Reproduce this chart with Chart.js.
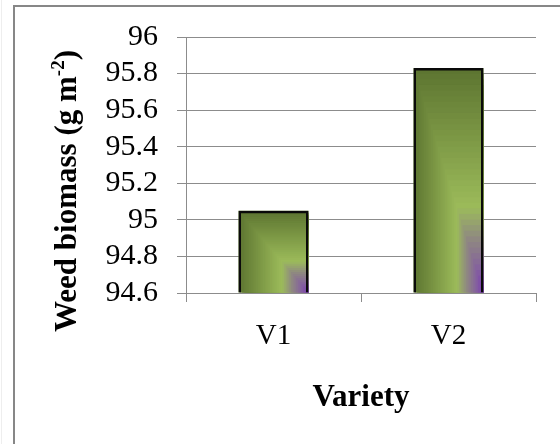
<!DOCTYPE html>
<html>
<head>
<meta charset="utf-8">
<script src="https://cdn.jsdelivr.net/npm/chart.js@4.4.1/dist/chart.umd.min.js"></script>
<style>
  html, body { margin: 0; padding: 0; background: #fff; overflow: hidden; }
  #wrap { position: relative; width: 560px; height: 444px; }
</style>
</head>
<body>
<div id="wrap"><canvas id="myChart" width="560" height="444"></canvas></div>
<script>
// data
var categories = ['V1', 'V2'];
var biomass = [95.05, 95.83];
var yMin = 94.6;
var yMax = 96;
var yStep = 0.2;
var xTitle = 'Variety';
var yTitleMain = 'Weed biomass (g m';
var yTitleSup = '-2';
var yTitleEnd = ')';

var serif = '"Liberation Serif", "Times New Roman", serif';

// colour at distance d (0 = bottom-right corner, 1 = outer edge)
var stops = [
    [0.00, [122, 60, 178]],
    [0.12, [134, 102, 154]],
    [0.25, [144, 140, 126]],
    [0.38, [156, 187, 90]],
    [1.00, [92, 116, 48]]
];
function colorAt(d) {
    for (var i = 1; i < stops.length; i++) {
        if (d <= stops[i][0]) {
            var a = stops[i - 1], b = stops[i];
            var t = (d - a[0]) / (b[0] - a[0]);
            var c = a[1].map(function(v, k) { return Math.round(v + (b[1][k] - v) * t); });
            return 'rgb(' + c.join(',') + ')';
        }
    }
    return 'rgb(' + stops[stops.length - 1][1].join(',') + ')';
}

// rectangular gradient fill under each bar, drawn from the bar element geometry
var barFill = {
    id: 'barFill',
    beforeDatasetsDraw: function(chart) {
        var ctx = chart.ctx;
        var area = chart.chartArea;
        var meta = chart.getDatasetMeta(0);
        meta.data.forEach(function(bar) {
            var p = bar.getProps(['x', 'y', 'base', 'width'], true);
            var left = p.x - p.width / 2, right = p.x + p.width / 2;
            var top = Math.min(p.y, p.base), bottom = Math.min(Math.max(p.y, p.base), area.bottom);
            var w = right - left, h = bottom - top;
            var steps = 40;
            ctx.save();
            for (var k = steps; k >= 1; k--) {
                var d = k / steps;
                ctx.fillStyle = colorAt(d - 0.5 / steps);
                ctx.fillRect(right - d * w, bottom - d * h, d * w, d * h);
            }
            ctx.restore();
        });
    }
};

// outer frame and rotated y title with superscript
var decor = {
    id: 'decor',
    beforeDraw: function(chart) {
        var ctx = chart.ctx;
        ctx.save();
        ctx.strokeStyle = '#eeeeee';
        ctx.lineWidth = 1;
        ctx.beginPath();
        ctx.moveTo(1.5, 0);
        ctx.lineTo(1.5, 444);
        ctx.stroke();
        ctx.strokeStyle = '#878787';
        ctx.lineWidth = 2;
        ctx.beginPath();
        ctx.moveTo(14, 444);
        ctx.lineTo(14, 6);
        ctx.lineTo(560, 6);
        ctx.stroke();
        ctx.restore();
    },
    afterDraw: function(chart) {
        var ctx = chart.ctx;
        var main = 'bold 31px ' + serif;
        var sup = 'bold 19px ' + serif;
        ctx.save();
        ctx.font = main;
        var w1 = ctx.measureText(yTitleMain).width;
        var w3 = ctx.measureText(yTitleEnd).width;
        ctx.font = sup;
        var w2 = ctx.measureText(yTitleSup).width;
        var total = w1 + w2 + w3;
        ctx.translate(76, 191);
        ctx.rotate(-Math.PI / 2);
        ctx.fillStyle = '#000';
        ctx.textBaseline = 'alphabetic';
        ctx.textAlign = 'left';
        var x0 = -total / 2;
        ctx.font = main;
        ctx.fillText(yTitleMain, x0, 0);
        ctx.font = sup;
        ctx.fillText(yTitleSup, x0 + w1, -12);
        ctx.font = main;
        ctx.fillText(yTitleEnd, x0 + w1 + w2, 0);
        ctx.restore();
    }
};

var ctx = document.getElementById('myChart').getContext('2d');
var chart = new Chart(ctx, {
    type: 'bar',
    data: {
        labels: categories,
        datasets: [{
            data: biomass,
            base: yMin,
            backgroundColor: 'rgba(0,0,0,0)',
            borderColor: '#0a0a0a',
            borderWidth: 2.5,
            barPercentage: 0.4,
            categoryPercentage: 1
        }]
    },
    options: {
        responsive: false,
        animation: false,
        devicePixelRatio: 1,
        layout: { padding: { top: 35, right: 24, left: 0, bottom: 0 } },
        plugins: {
            legend: { display: false },
            tooltip: { enabled: false }
        },
        scales: {
            x: {
                offset: true,
                grid: { offset: true, drawOnChartArea: false, drawTicks: true, tickLength: 9, color: '#8c8c8c' },
                border: { color: '#8c8c8c', width: 1 },
                ticks: { color: '#000', padding: 17, font: { family: serif, size: 29 } },
                title: {
                    display: true,
                    text: xTitle,
                    color: '#000',
                    font: { family: serif, size: 31, weight: 'bold', lineHeight: 1.2 },
                    padding: { top: 0, bottom: 27 }
                },
                afterFit: function(s) { s.height = 151; }
            },
            y: {
                min: yMin,
                max: yMax,
                grid: { color: '#8c8c8c', tickLength: 9, drawTicks: true },
                border: { color: '#8c8c8c', width: 1 },
                ticks: {
                    stepSize: yStep,
                    autoSkip: false,
                    color: '#000',
                    padding: 19,
                    font: { family: serif, size: 30 },
                    callback: function(v) { return String(Number(v.toFixed(1))); }
                },
                afterFit: function(s) { s.width = 186; }
            }
        }
    },
    plugins: [barFill, decor]
});
</script>
</body>
</html>
